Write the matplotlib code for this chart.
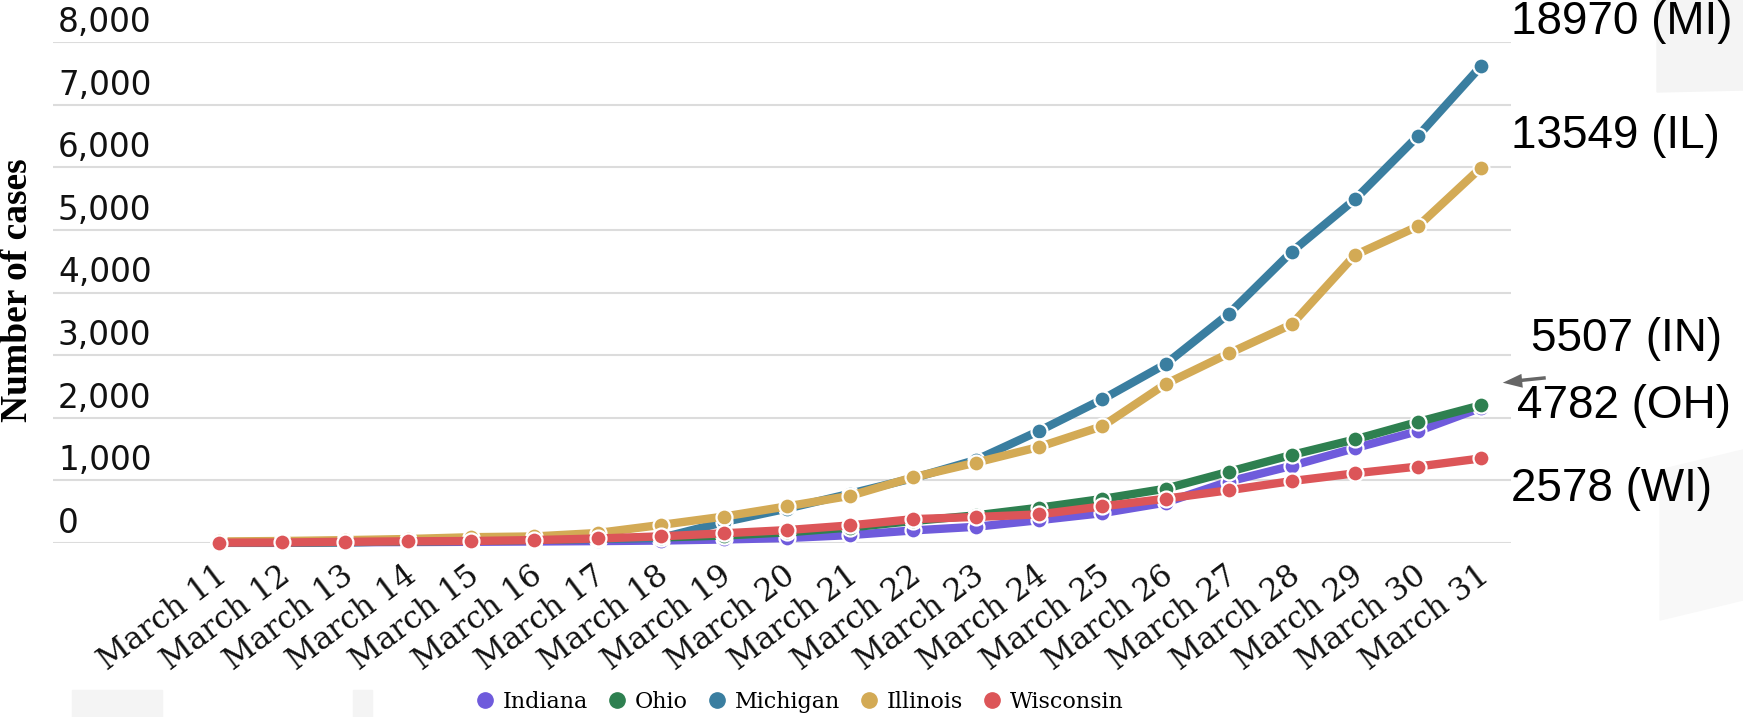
import matplotlib
matplotlib.use("Agg")
from matplotlib import pyplot as plt
from matplotlib import transforms
from matplotlib.patches import Polygon
import numpy as np

days = [f"March {d}" for d in range(11, 32)]
states = ["Indiana", "Ohio", "Michigan", "Illinois", "Wisconsin"]
indiana = [10, 12, 12, 15, 19, 24, 30, 39, 56, 79, 126, 201, 259, 365, 477, 645, 981, 1232, 1514, 1786, 2159]
ohio = [4, 5, 13, 26, 37, 50, 67, 88, 119, 169, 247, 351, 442, 564, 704, 867, 1137, 1406, 1653, 1933, 2199]
michigan = [2, 2, 12, 25, 33, 53, 65, 80, 334, 549, 787, 1035, 1328, 1791, 2294, 2856, 3657, 4650, 5486, 6498, 7615]
illinois = [25, 32, 46, 64, 93, 105, 160, 288, 422, 585, 753, 1049, 1285, 1535, 1865, 2538, 3026, 3491, 4596, 5057, 5994]
wisconsin = [6, 8, 19, 27, 32, 47, 72, 106, 155, 206, 281, 381, 416, 457, 585, 707, 842, 989, 1112, 1221, 1351]
colors = ["#6f5bdc", "#2e8050", "#3a7ea0", "#d3aa55", "#dc5558"]
yticks = [0, 1000, 2000, 3000, 4000, 5000, 6000, 7000, 8000]

# totals written at the right side
side_notes = ["18970 (MI)", "13549 (IL)", "5507 (IN)", "4782 (OH)", "2578 (WI)"]

W, H = 1743, 717
fig = plt.figure(figsize=(W / 100, H / 100), dpi=100)
ax = fig.add_axes([53 / W, 1 - 543 / H, (1511 - 53) / W, (543 - 42) / H])

# faint screenshot shading
def shade(pts, c):
    fig.patches.append(Polygon([[px / W, 1 - py / H] for px, py in pts], closed=True,
                               transform=fig.transFigure, color=c, zorder=0))

shade([(1657, 0), (1743, 0), (1743, 90), (1657, 92)], "#f4f4f4")
shade([(1660, 470), (1743, 450), (1743, 600), (1660, 620)], "#f8f8f8")
shade([(72, 690), (162, 690), (162, 717), (72, 717)], "#f4f4f4")
shade([(353, 690), (372, 690), (372, 717), (353, 717)], "#f4f4f4")

x = np.arange(len(days))
series = [indiana, ohio, michigan, illinois, wisconsin]
for i, (name, vals) in enumerate(zip(states, series)):
    ax.plot(x, vals, color=colors[i], lw=6, marker="o", ms=11.5, mfc=colors[i],
            mec="white", mew=1.6, label=name, clip_on=False, zorder=3 + i)

ax.set_xlim(-2.63, 20.475)
ax.set_ylim(0, 8000)
ax.set_yticks(yticks)
ax.grid(axis="y", color="#dcdcdc", lw=1.5)
ax.set_axisbelow(True)
ax.tick_params(length=0, labelleft=False, labelbottom=False)
for s in ax.spines.values():
    s.set_visible(False)

# y labels sit above their grid lines
ytr = ax.get_yaxis_transform() + transforms.ScaledTranslation(0.05, 0.1, fig.dpi_scale_trans)
for v in yticks:
    ax.text(0.0, v, f"{v:,}", transform=ytr, ha="left", va="baseline",
            fontsize=23.5, family="DejaVu Sans", color="#111111")

xtr = ax.get_xaxis_transform() + transforms.ScaledTranslation(0.14, -0.17, fig.dpi_scale_trans)
for i, d in enumerate(days):
    ax.text(x[i], 0, d, transform=xtr, ha="right", va="top", rotation=37,
            fontsize=22.5, family="DejaVu Serif", color="#111111")

fig.text(18 / W, 1 - 290 / H, "Number of cases", rotation=90, ha="center", va="center",
         fontsize=27, family="Liberation Serif", fontweight="bold")

note_pos = [(1511, 22), (1511, 136), (1531, 339), (1517, 406), (1511, 489)]
for txt, (px, py) in zip(side_notes, note_pos):
    fig.text(px / W, 1 - py / H, txt, ha="left", va="center", fontsize=33,
             family="Liberation Sans", color="black")

fig.add_artist(plt.Line2D([1544 / W, 1515 / W], [1 - 378 / H, 1 - 381 / H], color="#666666", lw=2.5))
ax.annotate("", xy=(1500 / W, 1 - 383 / H), xytext=(1530 / W, 1 - 380 / H), xycoords="figure fraction",
            arrowprops=dict(arrowstyle="-|>,head_length=1.4,head_width=0.5", color="#666666", lw=0))

handles, labels = ax.get_legend_handles_labels()
leg_handles = [plt.Line2D([], [], ls="none", marker="o", ms=11, color=c) for c in colors]
fig.legend(leg_handles, labels, loc="center", bbox_to_anchor=(800 / W, 1 - 702 / H), ncol=5,
           frameon=False, handlelength=0.8, handletextpad=0.4, columnspacing=0.9,
           prop={"family": "DejaVu Serif", "size": 16})

fig.savefig("out.png", dpi=100)
plt.close(fig)
